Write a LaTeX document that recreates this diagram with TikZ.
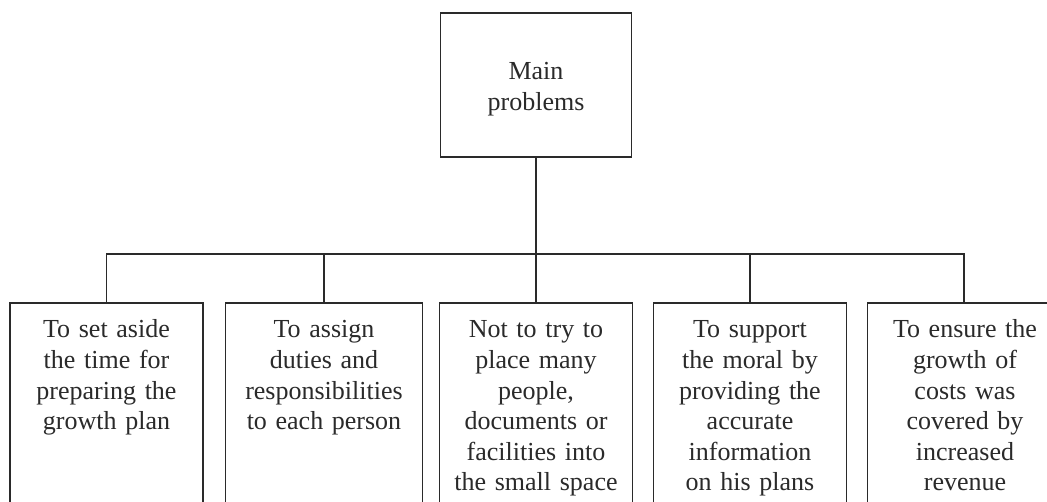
\documentclass[tikz,border=0pt]{standalone}
\usepackage{fontspec}
\setmainfont{Liberation Serif}
\definecolor{ink}{HTML}{2A2A2A}
\begin{document}
\begin{tikzpicture}[x=1pt,y=1pt,
  line width=1.8pt, draw=ink,
  boxstyle/.style={draw=ink, line width=1.9pt, rectangle, inner sep=0pt},
  mainbox/.style={boxstyle, minimum width=191pt, minimum height=144pt},
  childbox/.style={boxstyle, minimum width=193pt, minimum height=237pt},
  txt/.style={font=\fontsize{26}{30.6}\selectfont, text=ink, align=center, inner sep=0pt, anchor=base, text width=186pt},
  conn/.style={draw=ink, line width=1.7pt}]
\useasboundingbox (0,0) rectangle (1047,-502);
\fill[white] (0,0) rectangle (1047,-502);

\node[mainbox] (m) at (536,-85) {};
\node[txt] (mt) at (536,-80) {Main\\problems};

\node[childbox] (c1) at (106.5,-421.5) {};
\node[childbox, minimum width=197pt] (c2) at (324,-421.5) {};
\node[childbox] (c3) at (536,-421.5) {};
\node[childbox] (c4) at (750,-421.5) {};
\node[childbox] (c5) at (964,-421.5) {};

\node[txt] (t1) at (106.5,-338) {To set aside\\the time for\\preparing the\\growth plan};
\node[txt] (t2) at (324,-338) {To assign\\duties and\\responsibilities\\to each person};
\node[txt] (t3) at (536,-338) {Not to try to\\place many\\people,\\documents or\\facilities into\\the small space};
\node[txt] (t4) at (750,-338) {To support\\the moral by\\providing the\\accurate\\information\\on his plans};
\node[txt] (t5) at (965,-338) {To ensure the\\growth of\\costs was\\covered by\\increased\\revenue};

\coordinate (bus) at (536,-254);
\draw[conn] (m.south) -- (c3.north);
\draw[conn] (c1.north) -- (c1.north |- bus) -- (c5.north |- bus) -- (c5.north);
\draw[conn] (c2.north) -- (c2.north |- bus);
\draw[conn] (c4.north) -- (c4.north |- bus);
\end{tikzpicture}
\end{document}
